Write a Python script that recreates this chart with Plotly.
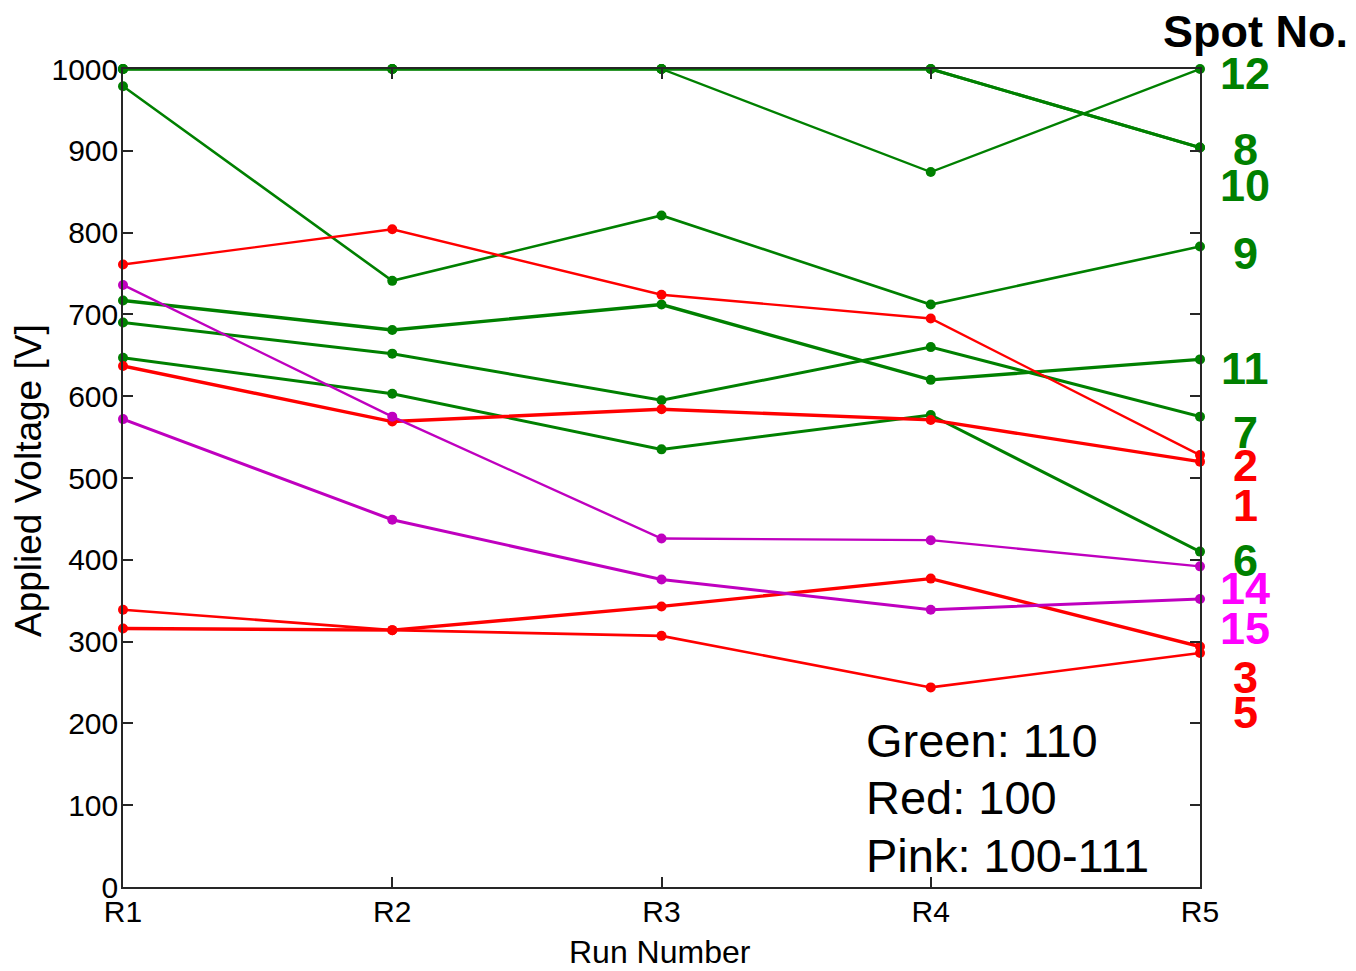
import plotly.graph_objects as go

runs = ["R1", "R2", "R3", "R4", "R5"]

# Green: 110
spot12 = [1000, 1000, 1000, 874, 1000]
spot8 = [1000, 1000, 1000, 1000, 904]
spot10 = [1000, 1000, 1000, 1000, 904]
spot9 = [979, 741, 821, 712, 783]
spot11 = [717, 681, 712, 620, 645]
spot7 = [690, 652, 595, 660, 575]
spot6 = [647, 603, 535, 577, 410]
# Red: 100
spot2 = [761, 804, 724, 695, 528]
spot1 = [637, 569, 584, 571, 520]
spot3 = [316, 314, 343, 377, 294]
spot5 = [339, 314, 307, 244, 286]
# Pink: 100-111
spot14 = [736, 575, 426, 424, 392]
spot15 = [572, 449, 376, 339, 352]

GREEN = "#008000"
RED = "#FF0000"
PINK_LINE = "#BF00BF"
PINK_TXT = "#FF00FF"

series = [
    ("12", spot12, GREEN, 2.4),
    ("8", spot8, GREEN, 3.0),
    ("10", spot10, GREEN, 3.0),
    ("9", spot9, GREEN, 2.6),
    ("11", spot11, GREEN, 3.4),
    ("7", spot7, GREEN, 3.0),
    ("6", spot6, GREEN, 3.0),
    ("2", spot2, RED, 2.4),
    ("1", spot1, RED, 3.4),
    ("3", spot3, RED, 3.4),
    ("5", spot5, RED, 2.6),
    ("14", spot14, PINK_LINE, 2.4),
    ("15", spot15, PINK_LINE, 3.0),
]

fig = go.Figure()
for name, vals, col, w in series:
    fig.add_trace(go.Scatter(
        x=runs, y=vals, mode="lines+markers", name=name,
        line=dict(color=col, width=w),
        marker=dict(color=col, size=10, symbol="circle"),
        cliponaxis=False,
    ))

SANS = "Liberation Sans, Arial, sans-serif"

# page body has an 8px margin; compensate so the plot lands where the reference has it
OFF = 8
W, H = 1356 - OFF, 971 - OFF
PL, PR, PT, PB = 123, 1200, 69, 887   # plot area in reference page pixels
pw, ph = PR - PL, PB - PT
L, T = PL - OFF, PT - OFF
R, B = W - L - pw, H - T - ph

def px(xp):
    return (xp - PL) / pw

def py(yp):
    return (PB - yp) / ph

annotations = []
annotations.append(dict(text="Applied Voltage [V]", xref="paper", yref="paper",
                        x=px(28), y=py(481), xanchor="center", yanchor="middle",
                        textangle=-90, showarrow=False,
                        font=dict(family=SANS, size=37, color="black")))
annotations.append(dict(text="Run Number", xref="paper", yref="paper",
                        x=px(660), y=py(952), xanchor="center", yanchor="middle",
                        showarrow=False,
                        font=dict(family=SANS, size=32, color="black")))
annotations.append(dict(text="<b>Spot No.</b>", xref="paper", yref="paper",
                        x=px(1255), y=py(31), xanchor="center", yanchor="middle",
                        showarrow=False,
                        font=dict(family=SANS, size=45, color="black")))

label_pos = [("12", 74, GREEN), ("8", 149, GREEN), ("10", 185, GREEN), ("9", 253, GREEN),
             ("11", 368, GREEN), ("7", 432, GREEN), ("2", 465, RED), ("1", 505, RED),
             ("6", 560, GREEN), ("14", 588, PINK_TXT), ("15", 628, PINK_TXT),
             ("3", 677, RED), ("5", 712, RED)]
for txt, ypix, col in label_pos:
    annotations.append(dict(text="<b>%s</b>" % txt, xref="paper", yref="paper",
                            x=px(1245), y=py(ypix), xanchor="center", yanchor="middle",
                            showarrow=False,
                            font=dict(family=SANS, size=45, color=col)))

for txt, ypix in [("Green: 110", 740), ("Red: 100", 797), ("Pink: 100-111", 855)]:
    annotations.append(dict(text=txt, xref="paper", yref="paper",
                            x=px(864), y=py(ypix), xanchor="left", yanchor="middle",
                            showarrow=False,
                            font=dict(family=SANS, size=47, color="black")))

axis_common = dict(showgrid=False, zeroline=False,
                   showline=True, linecolor="#262626", linewidth=1.5, mirror="ticks",
                   ticks="inside", ticklen=10, tickwidth=1.5, tickcolor="#262626",
                   layer="above traces",
                   tickfont=dict(family=SANS, size=30, color="black"))

fig.update_layout(
    width=W, height=H,
    margin=dict(l=L, r=R, t=T, b=B, autoexpand=False),
    paper_bgcolor="white", plot_bgcolor="white",
    showlegend=False,
    annotations=annotations,
    xaxis=dict(type="category", categoryorder="array", categoryarray=runs,
               range=[0, 4], ticklabelstandoff=-3, **axis_common),
    yaxis=dict(range=[0, 1000], tickvals=list(range(0, 1001, 100)),
               ticklabelstandoff=-3, **axis_common),
)

fig.write_html("out.html")
